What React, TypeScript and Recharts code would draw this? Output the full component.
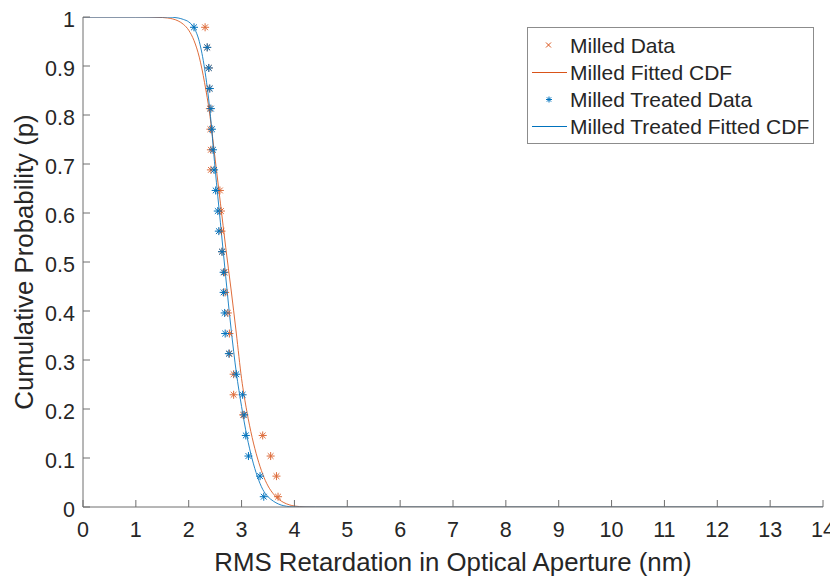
import React from 'react';
import { ComposedChart, Line, Scatter, XAxis, YAxis, Legend } from 'recharts';

// ---- data ----
const probLevels = [0.979, 0.938, 0.896, 0.854, 0.813, 0.771, 0.729, 0.688, 0.646, 0.604, 0.563, 0.521,
  0.479, 0.438, 0.396, 0.354, 0.313, 0.271, 0.229, 0.188, 0.146, 0.104, 0.063, 0.021];

const milledX = [2.31, 2.35, 2.38, 2.39, 2.40, 2.41, 2.42, 2.42, 2.59, 2.61, 2.62, 2.63,
  2.68, 2.69, 2.74, 2.77, 2.77, 2.85, 2.85, 3.03, 3.40, 3.55, 3.66, 3.69];

const treatedX = [2.10, 2.35, 2.38, 2.40, 2.42, 2.44, 2.46, 2.48, 2.51, 2.55, 2.57, 2.63,
  2.66, 2.66, 2.68, 2.69, 2.76, 2.90, 3.02, 3.05, 3.08, 3.13, 3.35, 3.42];

const fitX = [0, 1, 1.5, 1.6, 1.7, 1.8, 1.9, 2.0, 2.1, 2.2, 2.3, 2.4, 2.5, 2.6, 2.7, 2.8, 2.9, 3.0,
  3.1, 3.2, 3.3, 3.4, 3.5, 3.6, 3.7, 3.8, 3.9, 4.0, 4.1, 4.2, 4.4, 14];

const milledFit = [1, 1, 0.999, 0.998, 0.996, 0.992, 0.985, 0.973, 0.952, 0.918, 0.866, 0.8, 0.71, 0.62,
  0.53, 0.445, 0.355, 0.262, 0.195, 0.142, 0.1, 0.067, 0.043, 0.027, 0.016, 0.009, 0.0045, 0.002,
  0.0008, 0.0002, 0, 0];

const treatedFit = [1, 1, 1, 1, 0.9995, 0.998, 0.995, 0.99, 0.978, 0.95, 0.895, 0.81, 0.69, 0.58,
  0.47, 0.365, 0.275, 0.205, 0.145, 0.098, 0.062, 0.036, 0.021, 0.012, 0.006, 0.0025, 0.0008, 0.0002,
  0.00005, 0, 0, 0];

const xTicks = [0, 1, 2, 3, 4, 5, 6, 7, 8, 9, 10, 11, 12, 13, 14];
const yTicks = [0, 0.1, 0.2, 0.3, 0.4, 0.5, 0.6, 0.7, 0.8, 0.9, 1];

const seriesNames = ['Milled Data', 'Milled Fitted CDF', 'Milled Treated Data', 'Milled Treated Fitted CDF'];

// ---- styles ----
const ORANGE = '#D95319';
const BLUE = '#0072BD';
const TEXT = '#262626';
const AXIS = '#6e6e6e';
const FONT = '"Liberation Sans", Arial, Helvetica, sans-serif';

const milledPts = milledX.map((x, i) => ({ x, p: probLevels[i] }));
const treatedPts = treatedX.map((x, i) => ({ x, p: probLevels[i] }));
const milledFitPts = fitX.map((x, i) => ({ x, p: milledFit[i] }));
const treatedFitPts = fitX.map((x, i) => ({ x, p: treatedFit[i] }));

const Star = ({ cx, cy, color, r = 4, op = 1 }: any) => {
  const d = r * 0.72;
  return (
    <g stroke={color} strokeWidth={1} fill="none" opacity={op}>
      <line x1={cx - r} y1={cy} x2={cx + r} y2={cy} />
      <line x1={cx} y1={cy - r} x2={cx} y2={cy + r} />
      <line x1={cx - d} y1={cy - d} x2={cx + d} y2={cy + d} />
      <line x1={cx - d} y1={cy + d} x2={cx + d} y2={cy - d} />
    </g>
  );
};

const Cross = ({ cx, cy, color, r = 2.5 }: any) => (
  <g stroke={color} strokeWidth={1} fill="none">
    <line x1={cx - r} y1={cy - r} x2={cx + r} y2={cy + r} />
    <line x1={cx - r} y1={cy + r} x2={cx + r} y2={cy - r} />
  </g>
);

const renderOrange = (props: any) => <Star cx={props.cx} cy={props.cy} color={ORANGE} r={4} op={0.85} />;
const renderBlue = (props: any) => <Star cx={props.cx} cy={props.cy} color={BLUE} r={4} />;

const XTick = (props: any) => {
  const { x, y, payload } = props;
  return (
    <g>
      <line x1={x} y1={y} x2={x} y2={y - 7} stroke={AXIS} strokeWidth={1} />
      <text x={x} y={y + 30} textAnchor="middle" fill={TEXT} fontSize={21.5} fontFamily={FONT}>
        {payload.value}
      </text>
    </g>
  );
};

const YTick = (props: any) => {
  const { x, y, payload } = props;
  return (
    <g>
      <line x1={x} y1={y} x2={x + 7} y2={y} stroke={AXIS} strokeWidth={1} />
      <text x={x - 8} y={y + 10} textAnchor="end" fill={TEXT} fontSize={21.5} fontFamily={FONT}>
        {String(payload.value)}
      </text>
    </g>
  );
};

const XLabel = (props: any) => {
  const vb = props.viewBox || { x: 75, y: 499, width: 740, height: 70 };
  return (
    <text x={vb.x + vb.width / 2} y={vb.y + 64} textAnchor="middle" fill={TEXT} fontSize={25.8} fontFamily={FONT}>
      RMS Retardation in Optical Aperture (nm)
    </text>
  );
};

const YLabel = (props: any) => {
  const vb = props.viewBox || { x: 0, y: 9, width: 75, height: 490 };
  const cx = vb.x + 25;
  const cy = vb.y + vb.height / 2;
  return (
    <text x={cx} y={cy} transform={`rotate(-90, ${cx}, ${cy})`} textAnchor="middle" fill={TEXT} fontSize={25.8} fontFamily={FONT}>
      Cumulative Probability (p)
    </text>
  );
};

const renderLegend = () => {
  const rowsY = [18, 45.5, 72.5, 99.5];
  return (
    <svg width={288} height={118} style={{ display: 'block' }}>
      <rect x={0.5} y={0.5} width={286} height={116} fill="#ffffff" stroke="#8c8c8c" strokeWidth={1} />
      {seriesNames.map((name, i) => {
        const cy = rowsY[i];
        const color = i < 2 ? ORANGE : BLUE;
        let icon;
        if (i === 0) icon = <Cross cx={21.5} cy={cy} color={color} r={2.5} />;
        else if (i === 2) icon = <Star cx={22} cy={cy} color={color} r={3} />;
        else icon = <line x1={5} y1={cy} x2={40} y2={cy} stroke={color} strokeWidth={1} />;
        return (
          <g key={name}>
            {icon}
            <text x={43} y={cy + 7.5} fill={TEXT} fontSize={21} fontFamily={FONT}>{name}</text>
          </g>
        );
      })}
    </svg>
  );
};

export default function App() {
  return (
    <div style={{ width: 830, height: 569, background: '#fff' }}>
      <ComposedChart width={830} height={569} margin={{ top: 9, right: 15, bottom: 0, left: 0 }}>
        <XAxis
          type="number"
          dataKey="x"
          domain={[0, 14]}
          ticks={xTicks}
          interval={0}
          allowDataOverflow
          height={70}
          tickSize={0}
          tickMargin={0}
          tickLine={false}
          tick={<XTick />}
          axisLine={{ stroke: AXIS, strokeWidth: 1 }}
          label={<XLabel />}
        />
        <YAxis
          type="number"
          dataKey="p"
          domain={[0, 1]}
          ticks={yTicks}
          interval={0}
          allowDataOverflow
          width={75}
          tickSize={0}
          tickMargin={0}
          tickLine={false}
          tick={<YTick />}
          axisLine={{ stroke: AXIS, strokeWidth: 1 }}
          label={<YLabel />}
        />
        <Line data={milledFitPts} dataKey="p" type="monotone" stroke={ORANGE} strokeWidth={1} strokeOpacity={0.85} dot={false} activeDot={false} isAnimationActive={false} name="Milled Fitted CDF" />
        <Line data={treatedFitPts} dataKey="p" type="monotone" stroke={BLUE} strokeWidth={1} strokeOpacity={0.85} dot={false} activeDot={false} isAnimationActive={false} name="Milled Treated Fitted CDF" />
        <Scatter data={milledPts} dataKey="p" shape={renderOrange} isAnimationActive={false} name="Milled Data" />
        <Scatter data={treatedPts} dataKey="p" shape={renderBlue} isAnimationActive={false} name="Milled Treated Data" />
        <Legend
          layout="horizontal"
          verticalAlign="middle"
          align="center"
          content={renderLegend}
          wrapperStyle={{ position: 'absolute', left: 519, top: 19, width: 288, height: 118 }}
        />
      </ComposedChart>
    </div>
  );
}
